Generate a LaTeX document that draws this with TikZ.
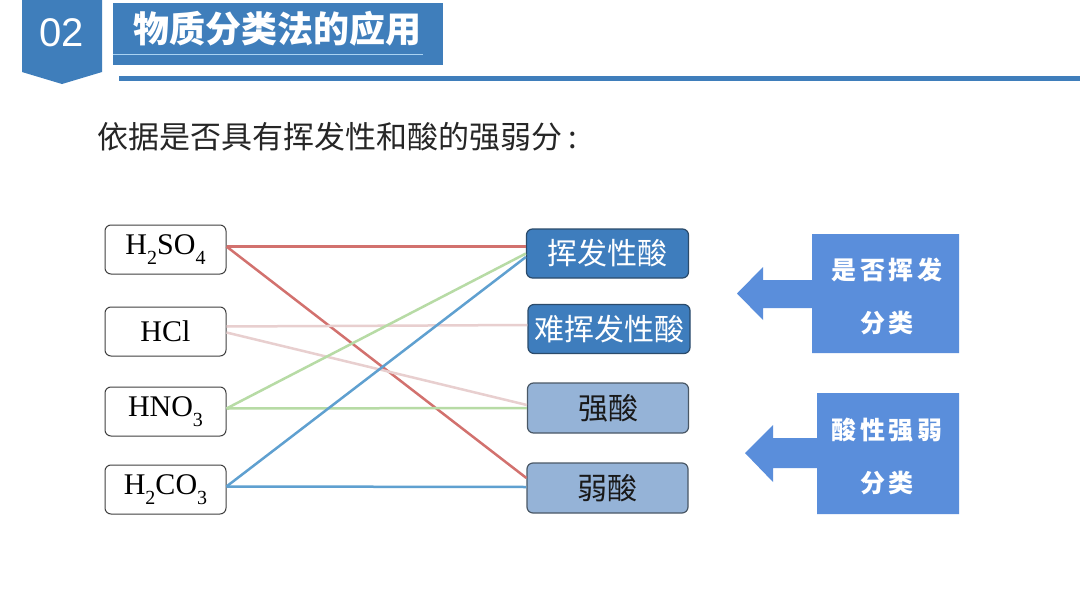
\documentclass[tikz,border=0pt]{standalone}
\usepackage{fontspec}
\setmainfont{Liberation Serif}
\newfontfamily\cjk{Noto Sans CJK SC}
\newfontfamily\cjksp[LetterSpace=14]{Noto Sans CJK SC}
\newfontfamily\headsans{Liberation Sans}
\newcommand\chemsub[1]{\raisebox{-0.32em}{\fontsize{20}{20}\selectfont #1}}
\definecolor{headblue}{HTML}{3F7EBB}
\definecolor{volblue}{HTML}{3E7DBD}
\definecolor{volborder}{HTML}{2B4B6B}
\definecolor{lightblue}{HTML}{95B3D7}
\definecolor{lightborder}{HTML}{4A5866}
\definecolor{callblue}{HTML}{5A8EDB}
\definecolor{redline}{HTML}{D2716E}
\definecolor{pinkline}{HTML}{E8CFCF}
\definecolor{greenline}{HTML}{B7DBA5}
\definecolor{blueline}{HTML}{5FA0D0}
\definecolor{innerline}{HTML}{A9D2F2}
\tikzset{
  formula/.style={draw=black!75, line width=1pt, rounded corners=6pt, fill=white,
    minimum width=121pt, minimum height=49pt, inner sep=0pt,
    font=\fontsize{30}{34}\selectfont},
  volbox/.style={draw=volborder, line width=1.2pt, rounded corners=6pt, fill=volblue,
    minimum width=162pt, minimum height=49pt, inner sep=0pt, text=white,
    font=\cjk\fontsize{30}{34}\selectfont},
  strbox/.style={draw=lightborder, line width=1.2pt, rounded corners=6pt, fill=lightblue,
    minimum width=161pt, minimum height=50pt, inner sep=0pt, text=black!90,
    font=\cjk\fontsize{30}{34}\selectfont},
  conn/.style={line width=2.5pt},
  calltext/.style={text=white, align=center, inner sep=0pt,
    font=\cjksp\bfseries\fontsize{25}{53}\selectfont},
}
\begin{document}
\begin{tikzpicture}[x=1pt,y=-1pt]
\useasboundingbox (0,0) rectangle (1080,608);
\fill[white] (0,0) rectangle (1080,608);
% header
\fill[headblue] (22,0) -- (102,0) -- (102,72) -- (62,84) -- (22,72) -- cycle;
\node[text=white, font=\headsans\fontsize{40}{44}\selectfont] (num) at (62,33) {02};
\fill[headblue] (113,3) rectangle (443,65);
\draw[innerline, line width=1pt] (113,54) -- (423,54);
\node[text=white, font=\cjk\bfseries\fontsize{36}{40}\selectfont] (title) at (277,29) {物质分类法的应用};
\fill[headblue] (119,76) rectangle (1080,80.5);
% subtitle
\node[anchor=west, inner sep=0pt, text=black!85, font=\cjk\fontsize{31}{34}\selectfont] (sub) at (97,137) {依据是否具有挥发性和酸的强弱分\hspace{6pt}:};
% left boxes
\node[formula] (h2so4) at (165.5,249.5) {H\chemsub{2}SO\chemsub{4}};
\node[formula] (hcl) at (165.5,331.5) {HCl};
\node[formula] (hno3) at (165.5,411.5) {HNO\chemsub{3}};
\node[formula] (h2co3) at (165.5,489.5) {H\chemsub{2}CO\chemsub{3}};
% right boxes
\node[volbox] (vol) at (607.5,253.5) {挥发性酸};
\node[volbox] (nvol) at (609,329) {难挥发性酸};
\node[strbox] (strong) at (608,408) {强酸};
\node[strbox] (weak) at (607.5,488) {弱酸};
% connectors
\draw[conn, redline] ([yshift=3pt]h2so4.east) -- ([yshift=7pt]vol.west);
\draw[conn, redline] ([yshift=3pt]h2so4.east) -- ([yshift=10pt]weak.west);
\draw[conn, pinkline] ([yshift=5pt]hcl.east) -- ([yshift=4pt]nvol.west);
\draw[conn, pinkline] ([yshift=-1pt]hcl.east) -- ([yshift=3pt]strong.west);
\draw[conn, greenline] ([yshift=3pt]hno3.east) -- (vol.west);
\draw[conn, greenline] ([yshift=3pt]hno3.east) -- (strong.west);
\draw[conn, blueline] ([yshift=3pt]h2co3.east) -- ([yshift=-3.5pt]vol.west);
\draw[conn, blueline] ([yshift=3pt]h2co3.east) -- ([yshift=1pt]weak.west);
% callouts
\fill[callblue] (959,234) -- (812,234) -- (812,280) -- (763,280) -- (763,267) -- (737,293.5)
  -- (763,320) -- (763,308) -- (812,308) -- (812,353) -- (959,353) -- cycle;
\node[calltext] (c1) at (887,296.5) {是否挥发\\分类};
\fill[callblue] (959,393) -- (817,393) -- (817,438) -- (773,438) -- (773,425) -- (745,453)
  -- (773,482) -- (773,468) -- (817,468) -- (817,514) -- (959,514) -- cycle;
\node[calltext] (c2) at (887,456.5) {酸性强弱\\分类};
\end{tikzpicture}
\end{document}
